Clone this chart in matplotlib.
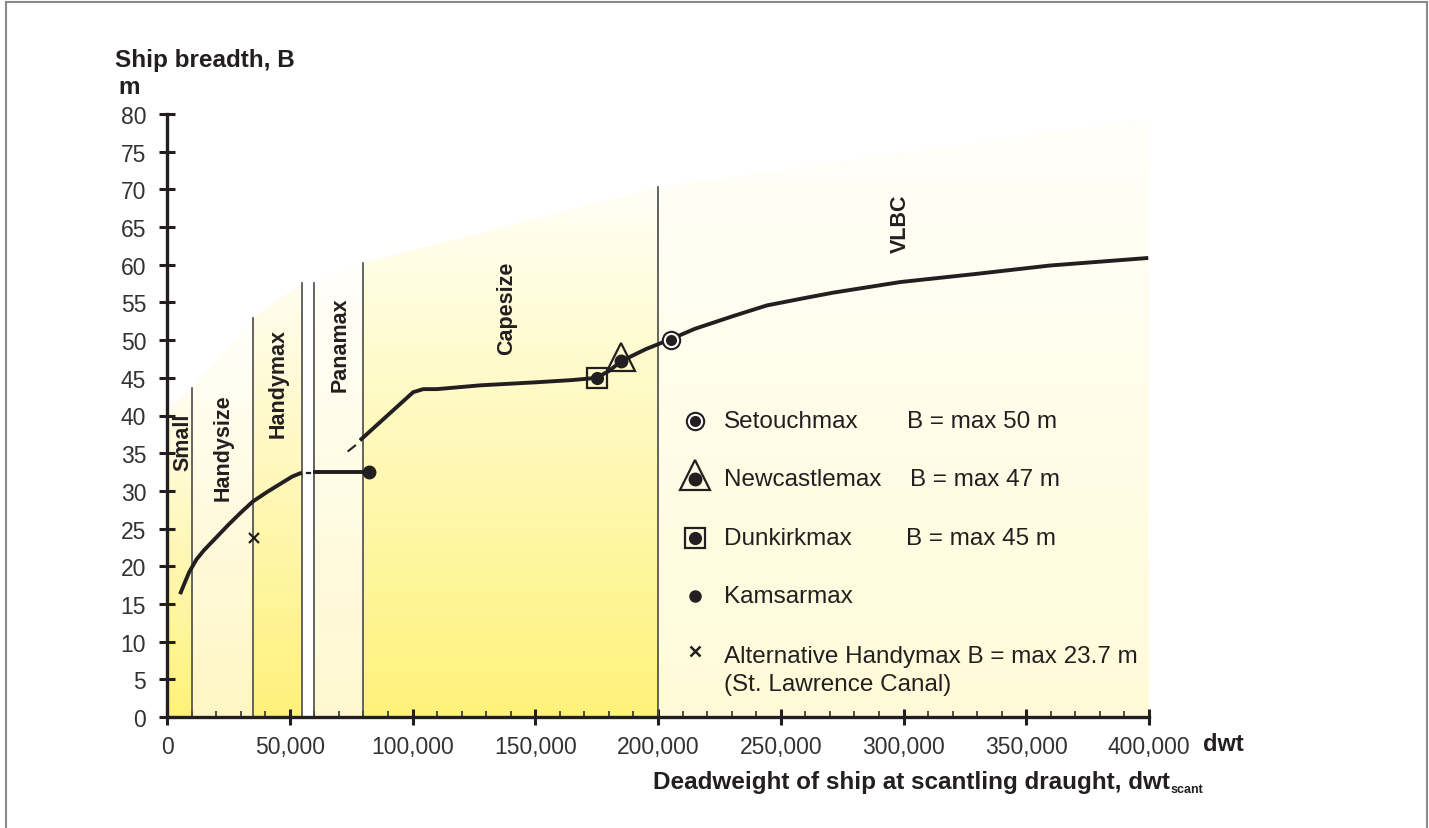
import numpy as np
import matplotlib.pyplot as plt
from matplotlib.patches import Polygon
from matplotlib.lines import Line2D
from matplotlib.colors import to_rgb
from matplotlib.ticker import MultipleLocator, FuncFormatter

plt.rcParams['font.family'] = ['Liberation Sans', 'DejaVu Sans']

INK = '#231f20'

# Breadth curve, Small .. Handymax part
curve1_dwt = [5300, 9000, 12000, 15000, 20000, 25000, 30000, 35000, 41000, 47000, 51000, 54000, 55000]
curve1_b = [16.3, 19.2, 20.9, 22.1, 23.8, 25.5, 27.1, 28.6, 29.9, 31.1, 31.9, 32.3, 32.4]
# Panamax flat part up to Kamsarmax
panamax_dwt = [60300, 82400]
panamax_b = [32.5, 32.5]
# Capesize / VLBC part
curve2_dwt = [78600, 100300, 104400, 110000, 127500, 150000, 165000, 175000, 180000, 185000,
              195000, 205000, 215000, 230700, 244300, 260000, 271400, 298600, 330000, 359700, 399700]
curve2_b = [36.7, 43.1, 43.5, 43.5, 44.0, 44.4, 44.7, 45.0, 45.9, 47.2,
            48.8, 50.1, 51.5, 53.2, 54.6, 55.6, 56.3, 57.7, 58.8, 59.9, 60.9]

# divider lines between ship classes
divider_x = [10000, 35000, 55000, 60000, 80000, 200000]
divider_top = [43.6, 52.9, 57.6, 57.6, 60.2, 70.3]

# top outline of the shaded area
shade_x = [0, 10000, 35000, 55000, 60000, 80000, 200000, 400000]
shade_top = [40.5, 43.6, 52.9, 57.6, 57.6, 60.2, 70.3, 79.3]

# shaded bands: (start, end, bottom colour, top colour)
bands = [
    (0, 10000, '#fff27a', '#fffdf0'),
    (10000, 35000, '#fff6c4', '#fffffa'),
    (35000, 55000, '#fff17a', '#fffdf0'),
    (60000, 80000, '#fff8cf', '#fffffa'),
    (80000, 200000, '#fff27a', '#fffff6'),
    (200000, 400000, '#fffbd8', '#fffffa'),
]

class_names = ['Small', 'Handysize', 'Handymax', 'Panamax', 'Capesize', 'VLBC']
class_x = [6650, 22700, 45300, 70500, 138500, 298600]
class_y = [36.6, 35.8, 44.4, 49.5, 54.3, 65.6]

# special ship sizes
setouch = (205300, 50.0)
newcastle = (184900, 47.2)
dunkirk = (175200, 45.0)
kamsar = (82400, 32.5)
alt_handymax = (35400, 23.8)

legend_names = ['Setouchmax', 'Newcastlemax', 'Dunkirkmax', 'Kamsarmax',
                'Alternative Handymax B = max 23.7 m', '(St. Lawrence Canal)']
legend_limits = ['B = max 50 m', 'B = max 47 m', 'B = max 45 m']
legend_limit_x = [301400, 302600, 301000]
legend_y = [39.3, 31.6, 23.7, 16.0, 8.1, 4.4]

fig = plt.figure(figsize=(14.29, 8.29), dpi=100)
W, H = 1429, 829
ax = fig.add_axes([167 / W, 1 - 718 / H, (1149 - 167) / W, (718 - 115) / H])

# gradient bands
for x0, x1, cb, ct in bands:
    tops = np.interp([x0, x1], shade_x, shade_top)
    poly = Polygon([(x0, 0), (x1, 0), (x1, tops[1]), (x0, tops[0])], closed=True,
                   facecolor='none', edgecolor='none')
    ax.add_patch(poly)
    t = np.linspace(0, 1, 256)[:, None]
    img = (1 - t) * np.array(to_rgb(cb)) + t * np.array(to_rgb(ct))
    im = ax.imshow(img.reshape(256, 1, 3), extent=(x0, x1, 0, max(tops)), origin='lower',
                   aspect='auto', zorder=0, interpolation='bilinear')
    im.set_clip_path(poly)

for x, top in zip(divider_x, divider_top):
    ax.plot([x, x], [0, top], color='#4a4a4a', lw=1.2, zorder=2)

# curves
ax.plot(curve1_dwt, curve1_b, color=INK, lw=2.8, solid_capstyle='butt', zorder=3)
ax.plot([57200, 58300], [32.4, 32.4], color=INK, lw=1.6, zorder=3)
ax.plot(panamax_dwt, panamax_b, color=INK, lw=2.8, zorder=3)
ax.plot([73900, 76600], [35.3, 36.0], color=INK, lw=1.5, zorder=3)
ax.plot(curve2_dwt, curve2_b, color=INK, lw=2.8, solid_capstyle='butt', zorder=3)

def setouch_marker(x, y):
    ax.plot(x, y, 'o', ms=14, mfc=INK, mec='none', zorder=5, clip_on=False)
    ax.plot(x, y, 'o', ms=11, mfc='white', mec='none', zorder=5, clip_on=False)
    ax.plot(x, y, 'o', ms=8, mfc=INK, mec='none', zorder=5, clip_on=False)

def newcastle_marker(x, y, size=20):
    ax.plot(x, y + 0.5, '^', ms=size, mfc='none', mec=INK, mew=1.6, zorder=5, clip_on=False)
    ax.plot(x, y, 'o', ms=10, mfc=INK, mec='none', zorder=5, clip_on=False)

def dunkirk_marker(x, y):
    ax.plot(x, y, 's', ms=14, mfc='none', mec=INK, mew=1.6, zorder=5, clip_on=False)
    ax.plot(x, y, 'o', ms=9.5, mfc=INK, mec='none', zorder=5, clip_on=False)

dunkirk_marker(*dunkirk)
newcastle_marker(*newcastle)
setouch_marker(*setouch)
ax.plot(*kamsar, 'o', ms=9, color=INK, zorder=5)
ax.plot(*alt_handymax, 'x', ms=7, mew=1.6, color=INK, zorder=5)

# class labels
for name, x, y in zip(class_names, class_x, class_y):
    ax.text(x, y, name, rotation=90, ha='center', va='center', fontsize=15.5,
            fontweight='bold', color=INK, zorder=4)

# legend block
mx = 215000
tx = 226900
setouch_marker(mx, legend_y[0])
newcastle_marker(mx, legend_y[1], size=21)
dunkirk_marker(mx, legend_y[2])
ax.plot(mx, legend_y[3], 'o', ms=8, color=INK, zorder=5)
ax.plot(mx, legend_y[4] + 0.6, 'x', ms=7, mew=1.8, color=INK, zorder=5)
for name, y in zip(legend_names, legend_y):
    ax.text(tx, y, name, ha='left', va='center', fontsize=17.5, color=INK, zorder=4)
for lim, x, y in zip(legend_limits, legend_limit_x, legend_y):
    ax.text(x, y, lim, ha='left', va='center', fontsize=17.5, color=INK, zorder=4)

# axes
ax.set_xlim(0, 400000)
ax.set_ylim(0, 80)
for s in ['top', 'right']:
    ax.spines[s].set_visible(False)
for s in ['left', 'bottom']:
    ax.spines[s].set_linewidth(2.4)
    ax.spines[s].set_color(INK)
    ax.spines[s].set_zorder(6)
ax.xaxis.set_major_locator(MultipleLocator(50000))
ax.xaxis.set_minor_locator(MultipleLocator(10000))
ax.yaxis.set_major_locator(MultipleLocator(5))
ax.xaxis.set_major_formatter(FuncFormatter(lambda v, p: f'{int(v):,}'))
ax.tick_params(axis='both', which='major', direction='inout', length=12, width=2.2,
               color=INK, labelsize=16.5, labelcolor='#333333')
ax.tick_params(axis='y', which='major', pad=9)
ax.tick_params(axis='x', which='major', pad=7)
ax.tick_params(axis='x', which='minor', direction='in', length=4.5, width=1.1, color=INK)

# titles
fig.text(115 / W, 1 - 60 / H, 'Ship breadth, B', fontsize=17.5, fontweight='bold',
         color=INK, ha='left', va='center')
fig.text(118 / W, 1 - 88 / H, 'm', fontsize=17.5, fontweight='bold',
         color=INK, ha='left', va='center')
fig.text(1203 / W, 1 - 745 / H, 'dwt', fontsize=17, fontweight='bold',
         color=INK, ha='left', va='center')
fig.text(1170 / W, 1 - 783 / H, 'Deadweight of ship at scantling draught, dwt',
         fontsize=17.5, fontweight='bold', color=INK, ha='right', va='center')
fig.text(1171 / W, 1 - 790 / H, 'scant', fontsize=9, fontweight='bold',
         color=INK, ha='left', va='center')

# frame round the figure (no bottom edge)
for xs, ys in [([6, 6], [3, 829]), ([6, 1427], [3, 3]), ([1427, 1427], [3, 829])]:
    fig.add_artist(Line2D([x / W for x in xs], [1 - y / H for y in ys],
                          color='#8a8a8a', lw=1.5))

fig.savefig('out.png', dpi=100)
